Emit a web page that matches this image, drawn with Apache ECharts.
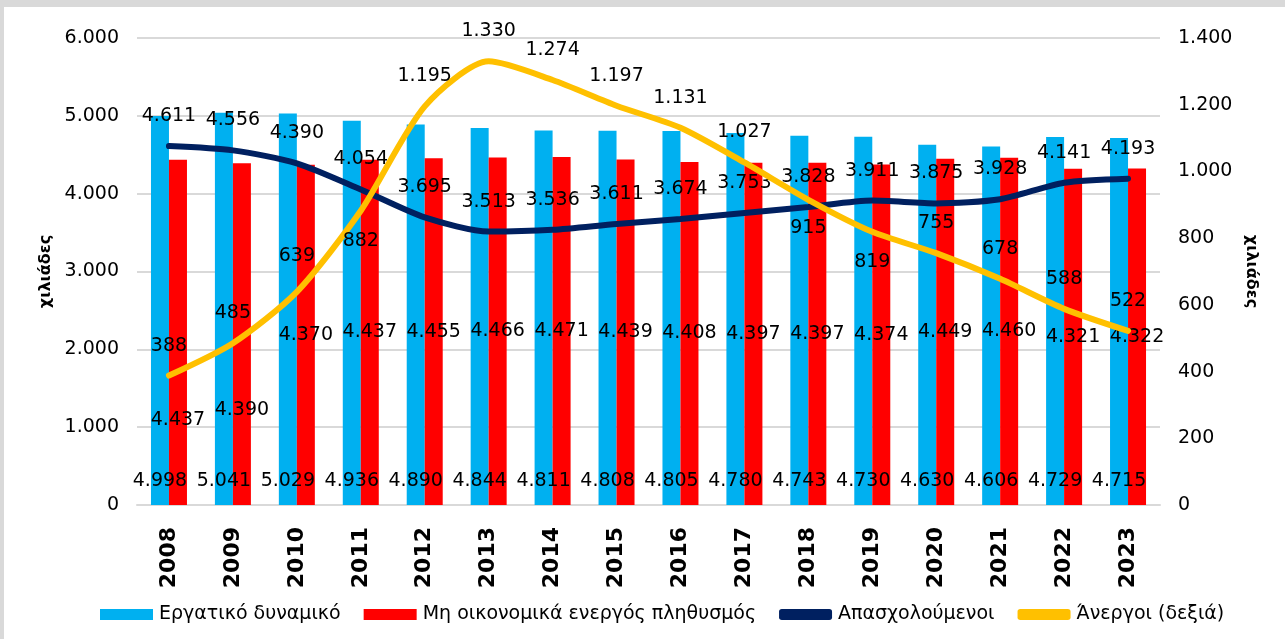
<!DOCTYPE html>
<html>
<head>
<meta charset="utf-8">
<script src="https://cdn.jsdelivr.net/npm/echarts@6/dist/echarts.min.js"></script>
<style>
  html, body { margin: 0; padding: 0; background: #fff; }
  .frame {
    width: 1281px;
    height: 632px;
    border-top: 7px solid #d9d9d9;
    border-left: 4px solid #d9d9d9;
  }
  #main { width: 1281px; height: 632px; }
</style>
</head>
<body>
<div class="frame"><div id="main"></div></div>
<script>
const years = ['2008', '2009', '2010', '2011', '2012', '2013', '2014', '2015',
  '2016', '2017', '2018', '2019', '2020', '2021', '2022', '2023']
const labourForce = [4998, 5041, 5029, 4936, 4890, 4844, 4811, 4808, 4805, 4780, 4743, 4730, 4630, 4606, 4729, 4715]
const inactive = [4437, 4390, 4370, 4437, 4455, 4466, 4471, 4439, 4408, 4397, 4397, 4374, 4449, 4460, 4321, 4322]
const employed = [4611, 4556, 4390, 4054, 3695, 3513, 3536, 3611, 3674, 3753, 3828, 3911, 3875, 3928, 4141, 4193]
const unemployed = [388, 485, 639, 882, 1195, 1330, 1274, 1197, 1131, 1027, 915, 819, 755, 678, 588, 522]
const seriesNames = ['Εργατικό δυναμικό', 'Μη οικονομικά ενεργός πληθυσμός', 'Απασχολούμενοι', 'Άνεργοι (δεξιά)']

// greek thousands separator
const fmt = v => String(v).replace(/\B(?=(\d{3})+(?!\d))/g, '.')

// labels that were moved by hand in the original
const inactiveLabelShift = { 0: 88, 1: 76 }
const unemployedLabelShift = { 2: -6, 3: 60, 10: 58, 11: 60 }

const font = 'DejaVu Sans'
const labelStyle = { color: '#000', fontFamily: font, fontSize: 19 }
const nameStyle = { color: '#000', fontFamily: font, fontSize: 16, fontWeight: 'bold' }

const withShift = (values, shifts) => values.map((v, i) => shifts[i] === undefined
  ? v
  : { value: v, label: { offset: [0, shifts[i]] } })

const chart = echarts.init(document.getElementById('main'))
const option = {
  animation: false,
  textStyle: { fontFamily: font },
  grid: { left: 133, right: 125, top: 31, bottom: 134 },
  legend: {
    top: 593,
    left: 91,
    itemWidth: 53,
    itemHeight: 11,
    itemGap: 23,
    textStyle: { color: '#000', fontFamily: font, fontSize: 19, padding: [0, 0, 0, 1] },
    data: [
      { name: seriesNames[0], icon: 'rect' },
      { name: seriesNames[1], icon: 'rect' },
      { name: seriesNames[2], icon: 'roundRect' },
      { name: seriesNames[3], icon: 'roundRect' }
    ]
  },
  xAxis: {
    type: 'category',
    data: years,
    axisLine: { lineStyle: { color: '#d9d9d9', width: 2 } },
    axisTick: { show: false },
    axisLabel: { rotate: 90, color: '#000', fontFamily: font, fontSize: 22, fontWeight: 'bold', margin: 22 }
  },
  yAxis: [
    {
      type: 'value',
      min: 0,
      max: 6000,
      interval: 1000,
      name: 'χιλιάδες',
      nameLocation: 'middle',
      nameRotate: 90,
      nameGap: 82,
      nameTextStyle: nameStyle,
      axisLine: { show: false },
      axisTick: { show: false },
      splitLine: { lineStyle: { color: '#d9d9d9', width: 2 } },
      axisLabel: { ...labelStyle, margin: 18, formatter: fmt }
    },
    {
      type: 'value',
      min: 0,
      max: 1400,
      interval: 200,
      name: 'χιλιάδες',
      nameLocation: 'middle',
      nameRotate: -90,
      nameGap: 78,
      nameTextStyle: nameStyle,
      axisLine: { show: false },
      axisTick: { show: false },
      splitLine: { show: false },
      axisLabel: { ...labelStyle, margin: 18, formatter: fmt }
    }
  ],
  series: [
    {
      name: seriesNames[0],
      type: 'bar',
      data: labourForce,
      barWidth: 18,
      barGap: '0%',
      itemStyle: { color: '#00b0f0' },
      label: { show: true, position: 'insideBottom', distance: 14, ...labelStyle, formatter: p => fmt(p.value) }
    },
    {
      name: seriesNames[1],
      type: 'bar',
      data: withShift(inactive, inactiveLabelShift),
      barWidth: 18,
      itemStyle: { color: '#ff0000' },
      label: { show: true, position: 'inside', ...labelStyle, formatter: p => fmt(p.value) }
    },
    {
      name: seriesNames[2],
      type: 'line',
      data: employed,
      smooth: 0.25,
      symbol: 'circle',
      symbolSize: 1,
      lineStyle: { color: '#002060', width: 6, cap: 'round' },
      itemStyle: { color: '#002060' },
      label: { show: true, position: 'top', distance: 20, ...labelStyle, formatter: p => fmt(p.value) },
      z: 3
    },
    {
      name: seriesNames[3],
      type: 'line',
      yAxisIndex: 1,
      data: withShift(unemployed, unemployedLabelShift),
      smooth: 0.25,
      symbol: 'circle',
      symbolSize: 1,
      lineStyle: { color: '#ffc000', width: 6, cap: 'round' },
      itemStyle: { color: '#ffc000' },
      label: { show: true, position: 'top', distance: 20, ...labelStyle, formatter: p => fmt(p.value) },
      z: 4
    }
  ]
}
chart.setOption(option)
</script>
</body>
</html>
